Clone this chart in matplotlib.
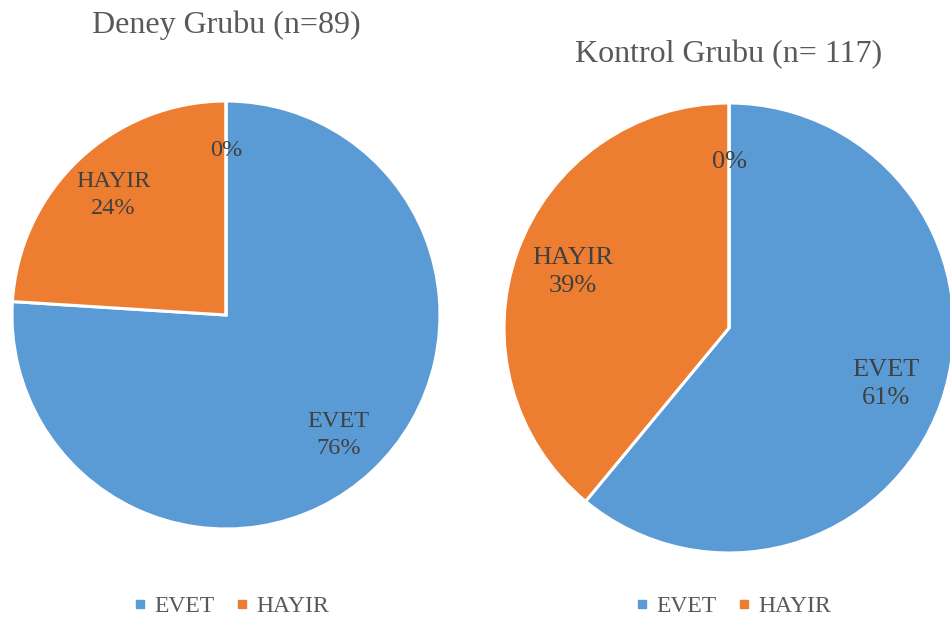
import matplotlib.pyplot as plt
from matplotlib.lines import Line2D

plt.rcParams['font.family'] = ['Liberation Serif', 'DejaVu Serif']

# data
categories = ['EVET', 'HAYIR', '']
deney_pct = [76, 24, 0]
kontrol_pct = [61, 39, 0]
titles = ['Deney Grubu (n=89)', 'Kontrol Grubu (n= 117)']
colors = ['#5B9BD5', '#ED7D31', '#A5A5A5']
text_col = '#404040'

W, H = 950, 619
fig = plt.figure(figsize=(9.5, 6.19), dpi=100)


def add_pie(cx, cy, r, values, fs, pdist):
    ax = fig.add_axes([(cx - r) / W, (H - cy - r) / H, 2 * r / W, 2 * r / H])
    wedges, _, autotexts = ax.pie(values, colors=colors, startangle=90, counterclock=False,
                                  autopct='%1.0f%%', pctdistance=pdist,
                                  wedgeprops=dict(edgecolor='white', linewidth=2.2))
    for name, t in zip(categories, autotexts):
        t.set_text((name + '\n' if name else '') + t.get_text())
        t.set_fontsize(fs)
        t.set_color(text_col)
        t.set_linespacing(1.35)
    ax.set_xlim(-1.0, 1.0)
    ax.set_ylim(-1.0, 1.0)
    ax.set_aspect('equal')
    ax.axis('off')
    return ax


add_pie(226, 315, 214, deney_pct, 17.5, 0.77)
add_pie(729, 328, 225, kontrol_pct, 19, 0.74)

fig.text(226 / W, 1 - 25 / H, titles[0], ha='center', va='center', fontsize=23, color='#595959')
fig.text(729 / W, 1 - 55 / H, titles[1], ha='center', va='center', fontsize=23, color='#595959')

handles = [Line2D([], [], marker='s', linestyle='none', markersize=6, color=c) for c in colors[:2]]
for x in (231, 733):
    fig.legend(handles, categories[:2], loc='center', bbox_to_anchor=(x / W, 1 - 606 / H),
               ncol=2, frameon=False, fontsize=17, handlelength=0.6, handletextpad=0.3,
               columnspacing=0.9, labelcolor='#595959')

fig.savefig('out.png', dpi=100)
